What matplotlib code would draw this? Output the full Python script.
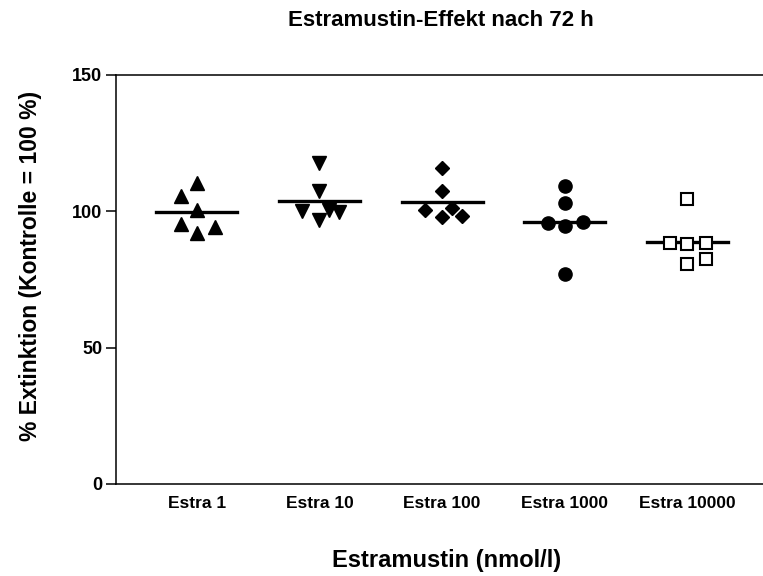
import numpy as np
import matplotlib
matplotlib.use("Agg")
import matplotlib.pyplot as plt

plt.rcParams['font.family'] = ['Liberation Sans', 'DejaVu Sans']
plt.rcParams['font.weight'] = 'bold'

gruppen = ["Estra 1", "Estra 10", "Estra 100", "Estra 1000", "Estra 10000"]

# Werte je Gruppe (% Extinktion)
estra_1 = [110.3, 105.7, 100.5, 95.4, 91.9, 94.1]
estra_10 = [117.8, 107.6, 100.2, 100.5, 99.9, 96.8]
estra_100 = [115.8, 107.6, 100.5, 101.1, 98.0, 98.3]
estra_1000 = [109.3, 102.9, 95.8, 94.6, 96.2, 76.9]
estra_10000 = [104.4, 88.3, 88.0, 88.5, 80.6, 82.4]

# seitlicher Versatz der Punkte (Spalten-Streuung)
versatz_1 = [0, -0.13, 0, -0.13, 0, 0.15]
versatz_10 = [0, 0, -0.14, 0.08, 0.16, 0]
versatz_100 = [0, 0, -0.14, 0.08, 0, 0.16]
versatz_1000 = [0, 0, -0.14, 0, 0.15, 0]
versatz_10000 = [0, -0.14, 0, 0.15, 0, 0.15]

daten = [estra_1, estra_10, estra_100, estra_1000, estra_10000]
versatz = [versatz_1, versatz_10, versatz_100, versatz_1000, versatz_10000]
marker = [
    dict(marker='^', ms=9.5, mfc='black', mec='black'),
    dict(marker='v', ms=9.5, mfc='black', mec='black'),
    dict(marker='D', ms=6.8, mfc='black', mec='black'),
    dict(marker='o', ms=9.5, mfc='black', mec='black'),
    dict(marker='s', ms=8.5, mfc='white', mec='black', mew=1.5),
]

fig = plt.figure(figsize=(7.63, 5.76), dpi=100)
ax = fig.add_axes([116 / 763, 1 - 484 / 576, 1 - 116 / 763 + 0.01, (484 - 75) / 576])

for i, (werte, dx, m) in enumerate(zip(daten, versatz, marker)):
    pos = i + 1
    mittel = np.mean(werte)
    ax.plot([pos - 0.33, pos + 0.33], [mittel, mittel], color='black', lw=2.4, zorder=2)
    ax.plot(pos + np.array(dx), werte, linestyle='none', zorder=3, **m)

ax.set_xlim(0.34, 5.68)
ax.set_ylim(0, 150)
ax.set_yticks([0, 50, 100, 150])
ax.set_xticks(range(1, 6))
ax.set_xticklabels(gruppen)

ax.spines['right'].set_visible(False)
for s in ['left', 'bottom', 'top']:
    ax.spines[s].set_linewidth(1.1)
ax.tick_params(axis='y', length=7, width=1.1, pad=3, labelsize=13)
ax.tick_params(axis='x', length=0, pad=9, labelsize=12.5)
for lab in ax.get_xticklabels() + ax.get_yticklabels():
    lab.set_fontweight('bold')

fig.text(441 / 763, 1 - 20 / 576, "Estramustin-Effekt nach 72 h", ha='center', va='center',
         fontsize=16, fontweight='bold')
fig.text(447 / 763, 1 - 561 / 576, "Estramustin (nmol/l)", ha='center', va='center',
         fontsize=17, fontweight='bold')
fig.text(31 / 763, 1 - 266 / 576, "% Extinktion (Kontrolle = 100 %)", ha='center', va='center',
         rotation=90, fontsize=16.5, fontweight='bold')

fig.savefig("out.png", dpi=100)
